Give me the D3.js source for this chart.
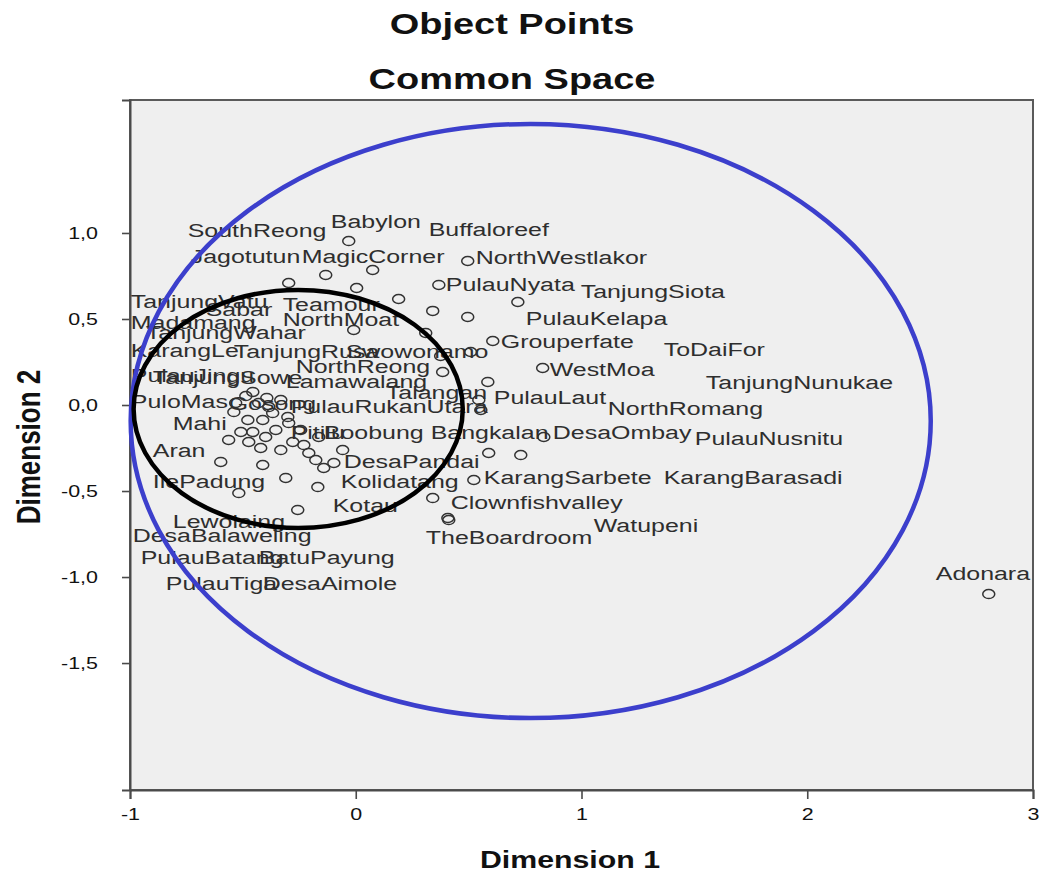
<!DOCTYPE html>
<html><head><meta charset="utf-8">
<script src="https://cdn.jsdelivr.net/npm/d3@7/dist/d3.min.js"></script>
<style>body{margin:0;background:#fff}</style>
</head><body><svg id="c" width="1039" height="875"></svg>
<script>
// ---------- data ----------
const titles = ["Object Points", "Common Space"];
const xTitle = "Dimension 1";
const yTitle = "Dimension 2";
const xTicks = [-1, 0, 1, 2, 3];
const xTickLabels = ["-1", "0", "1", "2", "3"];
const yTicks = [1, 0.5, 0, -0.5, -1, -1.5];
const yTickLabels = ["1,0", "0,5", "0,0", "-0,5", "-1,0", "-1,5"];

const names = ["Adonara","Babylon","SouthReong","Jagotutun","MagicCorner","Buffaloreef","NorthWestlakor","PulauNyata",
  "TanjungSiota","PulauKelapa","Grouperfate","ToDaiFor","WestMoa","TanjungNunukae","PulauLaut","NorthRomang",
  "DesaOmbay","PulauNusnitu","KarangSarbete","KarangBarasadi","Clownfishvalley","TheBoardroom","Watupeni","Kotau",
  "Kolidatang","DesaPandai","IlePadung","Aran","Mahi","Lewolaing","DesaBalaweling","PulauBatang","BatuPayung",
  "PulauTiga","DesaAimole","PuloMas","Gosong","PulauRukanUtara","TanjungVatu","Sabar","Teamour","NorthMoat",
  "Madamang","TanjungWahar","KarangLe","TanjungRusa","Swowonamo","NorthReong","PulauJingu","TanjungSowe",
  "Lamawalang","Talangan","Pitilu","Boobung","Bangkalan"];
const dim1 = [2.804,-0.031,-0.133,-0.297,0.075,0.190,0.496,0.368,
  0.496,0.718,0.607,0.509,0.828,0.585,0.545,0.554,
  0.833,0.731,0.523,0.589,0.341,0.408,0.412,-0.257,
  -0.168,-0.058,-0.518,-0.598,-0.563,-0.310,-0.412,-0.421,-0.332,
  -0.474,-0.399,-0.540,-0.532,-0.430,-0.009,0.310,0.004,0.341,
  -0.456,-0.478,-0.368,-0.297,0.385,-0.244,-0.456,-0.164,
  -0.208,-0.177,-0.142,-0.097,0.376];
const dim2 = [-1.099,0.953,0.756,0.709,0.785,0.616,0.837,0.698,
  0.512,0.599,0.372,0.308,0.215,0.134,0.029,-0.029,
  -0.186,-0.291,-0.436,-0.279,-0.541,-0.657,-0.669,-0.610,
  -0.477,-0.262,-0.512,-0.331,-0.203,-0.424,-0.349,-0.250,-0.262,
  -0.215,-0.186,-0.041,0.012,0.012,0.436,0.419,0.680,0.547,
  0.076,-0.087,-0.047,-0.105,0.192,-0.145,-0.157,-0.186,
  -0.279,-0.320,-0.366,-0.337,0.285];
// circles whose labels are hidden under others
const hiddenDim1 = [-0.487,-0.394,-0.412,-0.354,-0.279,-0.230,-0.509,-0.332,-0.385,-0.301];
const hiddenDim2 = [0.052,0.041,-0.087,-0.145,-0.215,-0.233,-0.157,0.029,-0.012,-0.070];

// reference ellipses (data units)
const ellipseCx = [0.775, -0.255];
const ellipseCy = [-0.093, -0.023];
const ellipseRx = [1.772, 0.729];
const ellipseRy = [1.727, 0.692];

// ---------- layout ----------
const SX = 1.3; // horizontal text stretch of the reference
const labelOffset = {
  Adonara:[-53,-21],Babylon:[-18,-20],SouthReong:[-138,-45],Jagotutun:[-98,-27],MagicCorner:[-71,-14],
  Buffaloreef:[30,-70],NorthWestlakor:[8,-4],PulauNyata:[7,-1],TanjungSiota:[113,-26],PulauKelapa:[8,16],
  Grouperfate:[8,0],ToDaiFor:[193,-3],WestMoa:[7,1],TanjungNunukae:[218,0],PulauLaut:[15,-3],
  NorthRomang:[127,-2],DesaOmbay:[9,-5],PulauNusnitu:[174,-17],KarangSarbete:[10,-3],KarangBarasadi:[175,24],
  Clownfishvalley:[18,4],TheBoardroom:[-22,19],Watupeni:[145,5],Kotau:[35,-5],Kolidatang:[23,-6],
  DesaPandai:[1,11],IlePadung:[-86,-12],Aran:[-68,-12],Mahi:[-56,-17],Lewolaing:[-113,43],
  DesaBalaweling:[-130,70],PulauBatang:[-120,109],BatuPayung:[-22,107],PulauTiga:[-83,141],DesaAimole:[-3,146],
  PuloMas:[-103,-11],Gosong:[-7,0],PulauRukanUtara:[32,3],TanjungVatu:[-223,-29],Sabar:[-220,-24],
  Teamour:[-74,16],NorthMoat:[-150,8],Madamang:[-122,-70],TanjungWahar:[-102,-88],KarangLe:[-142,-63],
  TanjungRusa:[-55,-72],Swowonamo:[-97,-21],NorthReong:[-5,-64],PulauJingu:[-122,-57],TanjungSowe:[-166,-60],
  Lamawalang:[-23,-72],Talangan:[70,-68],Pitilu:[-33,-36],Boobung:[-10,-31],Bangkalan:[-10,76]
};

const svg = d3.select("#c");
const x = d3.scaleLinear().domain([-1, 3]).range([130, 1033]);
const y = d3.scaleLinear().domain([-2.238, 1.773]).range([790, 100]);
const FONT = "'Liberation Sans', Arial, sans-serif";

// plot area
svg.append("rect")
  .attr("x", x.range()[0]).attr("y", y.range()[1])
  .attr("width", x.range()[1] - x.range()[0]).attr("height", y.range()[0] - y.range()[1])
  .attr("fill", "#efefef").attr("stroke", "#5a5a5a").attr("stroke-width", 2);

// axes
const gx = svg.append("g").attr("transform", `translate(0,${y.range()[0]})`)
  .call(d3.axisBottom(x).tickValues(xTicks).tickFormat((d, i) => xTickLabels[i]).tickSize(9).tickPadding(9));
const gy = svg.append("g").attr("transform", `translate(${x.range()[0]},0)`)
  .call(d3.axisLeft(y).tickValues(yTicks).tickFormat((d, i) => yTickLabels[i]).tickSize(8).tickPadding(24));
[gx, gy].forEach(g => {
  g.select(".domain").attr("stroke", "#4a4a4a").attr("stroke-width", 2);
  g.selectAll(".tick line").attr("stroke", "#4a4a4a").attr("stroke-width", 1.6);
  g.selectAll(".tick text").attr("font-family", FONT).attr("font-size", 16.5).attr("fill", "#111");
});
gx.selectAll(".tick text").attr("transform", `scale(${SX},1)`);
gy.selectAll(".tick text").attr("x", -32 / SX).attr("transform", `scale(${SX},1)`);

// hidden-label circles
svg.append("g").selectAll("ellipse").data(hiddenDim1.map((d, i) => [d, hiddenDim2[i]])).join("ellipse")
  .attr("cx", d => x(d[0])).attr("cy", d => y(d[1])).attr("rx", 6).attr("ry", 4.5)
  .attr("fill", "none").attr("stroke", "#333").attr("stroke-width", 1.5);

// object points
const objs = names.map((n, i) => ({ n, a: dim1[i], b: dim2[i] }));
svg.append("g").selectAll("ellipse").data(objs).join("ellipse")
  .attr("cx", d => x(d.a)).attr("cy", d => y(d.b)).attr("rx", 6).attr("ry", 4.5)
  .attr("fill", "none").attr("stroke", "#333").attr("stroke-width", 1.5);

// labels
svg.append("g").selectAll("text").data(objs).join("text")
  .attr("transform", d => `translate(${x(d.a) + labelOffset[d.n][0]},${y(d.b) + labelOffset[d.n][1]}) scale(${SX},1)`)
  .attr("dy", "0.36em").attr("font-family", FONT).attr("font-size", 19.2).attr("fill", "#2e2e2e")
  .text(d => d.n);

// ellipses
const ellColors = ["#3c3fcc", "#000000"];
svg.append("g").selectAll("ellipse").data(ellipseCx.map((d, i) => i)).join("ellipse")
  .attr("cx", i => x(ellipseCx[i])).attr("cy", i => y(ellipseCy[i]))
  .attr("rx", i => x(ellipseCx[i] + ellipseRx[i]) - x(ellipseCx[i]))
  .attr("ry", i => y(ellipseCy[i] - ellipseRy[i]) - y(ellipseCy[i]))
  .attr("fill", "none").attr("stroke", i => ellColors[i]).attr("stroke-width", 4.5);

// titles
svg.append("g").selectAll("text").data(titles).join("text")
  .attr("transform", (d, i) => `translate(512,${23 + i * 55}) scale(${SX},1)`)
  .attr("dy", "0.36em").attr("text-anchor", "middle").attr("font-family", FONT)
  .attr("font-weight", "bold").attr("font-size", 29.2).attr("fill", "#111").text(d => d);

svg.append("text").attr("transform", `translate(570,860) scale(${SX},1)`)
  .attr("dy", "0.36em").attr("text-anchor", "middle").attr("font-family", FONT)
  .attr("font-weight", "bold").attr("font-size", 23.3).attr("fill", "#111").text(xTitle);
svg.append("text").attr("transform", `translate(28,447) scale(${SX},1) rotate(-90)`)
  .attr("dy", "0.36em").attr("text-anchor", "middle").attr("font-family", FONT)
  .attr("font-weight", "bold").attr("font-size", 26).attr("fill", "#111").text(yTitle);
</script></body></html>
